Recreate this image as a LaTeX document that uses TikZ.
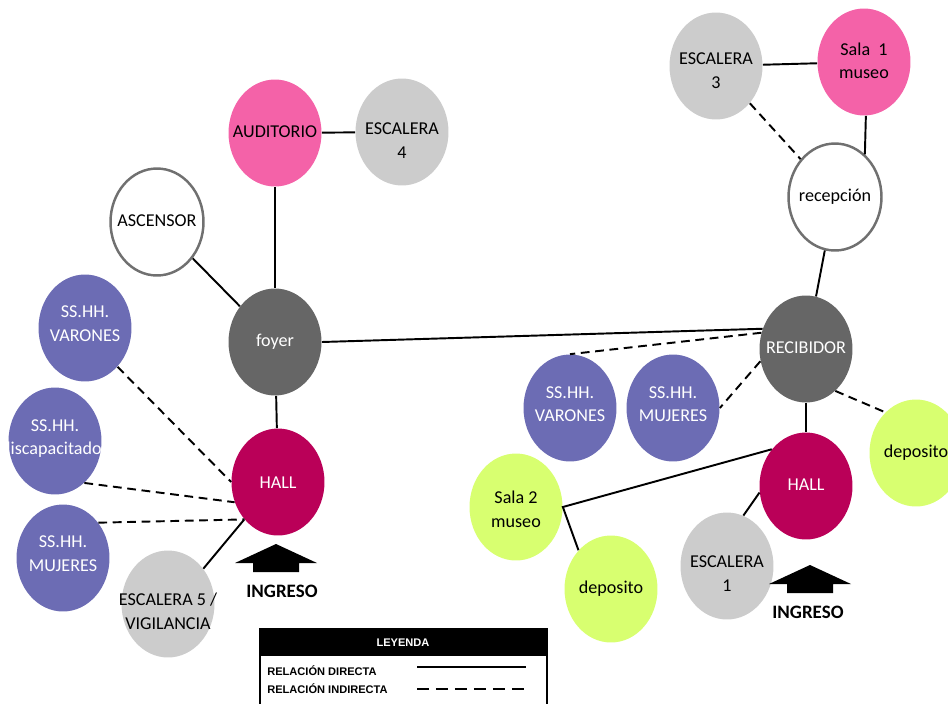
\documentclass[tikz,border=0pt]{standalone}
\usepackage{fontspec}
\setmainfont{Carlito}
\newfontfamily\legendfont{Liberation Sans}
\usetikzlibrary{positioning, shapes.geometric}
\definecolor{MuseumPink}{RGB}{244,98,168}
\definecolor{StairGray}{RGB}{204,204,204}
\definecolor{HubGray}{RGB}{102,102,102}
\definecolor{ToiletPurple}{RGB}{108,108,180}
\definecolor{HallMagenta}{RGB}{186,0,88}
\definecolor{StoreLime}{RGB}{216,255,112}
\definecolor{RingGray}{RGB}{112,112,112}
% texto centrado que no agranda la elipse (#1 = desplazamiento vertical)
\newcommand{\roomtext}[2][-2.6pt]{\raisebox{#1}[0pt][0pt]{\makebox[0pt]{\begin{tabular}{@{}c@{}}#2\end{tabular}}}}

\begin{document}
\begin{tikzpicture}[
    x=0.02cm, y=-0.02cm,
    font=\fontsize{10.3}{13.6}\selectfont,
    room/.style={ellipse, minimum width=1.86cm, minimum height=2.14cm, inner sep=0pt},
    ring/.style={room, draw=RingGray, line width=1.4pt, fill=white},
    dark/.style={room, text=white},
    link/.style={line width=1.1pt},
    weak/.style={line width=1.1pt, dash pattern=on 5pt off 3.2pt},
    legend text/.style={font=\legendfont\bfseries\fontsize{6.3}{7}\selectfont, inner sep=0pt},
]
\useasboundingbox (0,0) rectangle (948,704);

% bloque auditorio
\node[room, fill=MuseumPink] (aud) at (275,133) {\roomtext{AUDITORIO}};
\node[room, fill=StairGray] (esc4) at (402,132) {\roomtext[-8pt]{ESCALERA\\4}};
\node[ring] (asc) at (157,222) {\roomtext{ASCENSOR}};
\node[dark, fill=HubGray] (foyer) at (275,342) {\roomtext{foyer}};
\node[dark, fill=ToiletPurple] (varL) at (85,328) {\roomtext[-0.4pt]{SS.HH.\\VARONES}};
\node[dark, fill=ToiletPurple] (disL) at (55,441) {\roomtext[-0.9pt]{SS.HH.\\discapacitados}};
\node[dark, fill=ToiletPurple] (mujL) at (63,558) {\roomtext[-0.4pt]{SS.HH.\\MUJERES}};
\node[dark, fill=HallMagenta] (hallL) at (278,482) {\roomtext[-3.6pt]{HALL}};
\node[room, fill=StairGray] (esc5) at (168,604) {\roomtext[-7.6pt]{ESCALERA 5 /\\VIGILANCIA}};

% bloque museo
\node[room, fill=StairGray] (esc3) at (716,66) {\roomtext[-6pt]{ESCALERA\\3}};
\node[room, fill=MuseumPink] (sala1) at (864,62) {\roomtext{Sala~ 1\\museo}};
\node[ring] (recep) at (835,197) {\roomtext{recepción}};
\node[dark, fill=HubGray] (recib) at (806,349) {\roomtext{RECIBIDOR}};
\node[dark, fill=ToiletPurple] (varR) at (570,408) {\roomtext[-0.9pt]{SS.HH.\\VARONES}};
\node[dark, fill=ToiletPurple] (mujR) at (673,408) {\roomtext[-0.9pt]{SS.HH.\\MUJERES}};
\node[dark, fill=HallMagenta] (hallR) at (806,486) {\roomtext{HALL}};
\node[room, fill=StoreLime] (depR) at (916,453) {\roomtext{deposito}};
\node[room, fill=StoreLime] (sala2) at (516,507) {\roomtext[-4.8pt]{Sala 2\\museo}};
\node[room, fill=StoreLime] (depB) at (611,589) {\roomtext{deposito}};
\node[room, fill=StairGray] (esc1) at (727,566) {\roomtext[-7.6pt]{ESCALERA\\1}};

% relaciones directas
\draw[link] (aud) -- (esc4);
\draw[link] (aud) -- (foyer);
\draw[link] (asc) -- (foyer);
\draw[link] (foyer) -- (hallL);
\draw[link] (foyer.east) -- (recib.155);
\draw[link] (esc5.45) -- (hallL.228);
\draw[link] (esc3) -- (sala1);
\draw[link] (sala1.-88) -- (recep.55);
\draw[link] (recep) -- (recib);
\draw[link] (recib) -- (hallR);
\draw[link] (hallR.133) -- (sala2.east) -- (depB.130);
\draw[link] (hallR.188) -- (esc1.72);

% relaciones indirectas
\draw[weak] (varL.-50) -- (hallL.west);
\draw[weak] (disL.-55) -- (hallL.205);
\draw[weak] (mujL.45) -- (hallL.228);
\draw[weak] (esc3) -- (recep);
\draw[weak] (recib.160) -- (varR.north);
\draw[weak] (recib.195) -- (mujR.east);
\draw[weak] (recib.-55) -- (depR.127);

% ingresos
\foreach \cx/\ty/\tx/\nm in {276/544/282/ingL, 810/565/808/ingR}{
  \fill (\cx-41,\ty+19) -- (\cx,\ty) -- (\cx+41,\ty+19) -- (\cx+23,\ty+19)
    -- (\cx+23,\ty+28) -- (\cx-23,\ty+28) -- (\cx-23,\ty+19) -- cycle;
  \node[font=\fontsize{10.8}{13}\selectfont\bfseries] (\nm) at (\tx,\ty+47) {INGRESO};
}

% leyenda
\fill (260,629) rectangle (547,656);
\draw[line width=0.8pt] (260,629) rectangle (547,706);
\node[legend text, text=white] (leyenda) at (403,643) {LEYENDA};
\node[legend text, anchor=west] (ldir) at (267,671) {RELACIÓN DIRECTA};
\node[legend text, anchor=west] (lind) at (267,689) {RELACIÓN INDIRECTA};
\draw[link] (417,667) -- (526,667);
\draw[line width=1.1pt, dash pattern=on 6.8pt off 4pt] (417,689) -- (526,689);

\end{tikzpicture}
\end{document}
